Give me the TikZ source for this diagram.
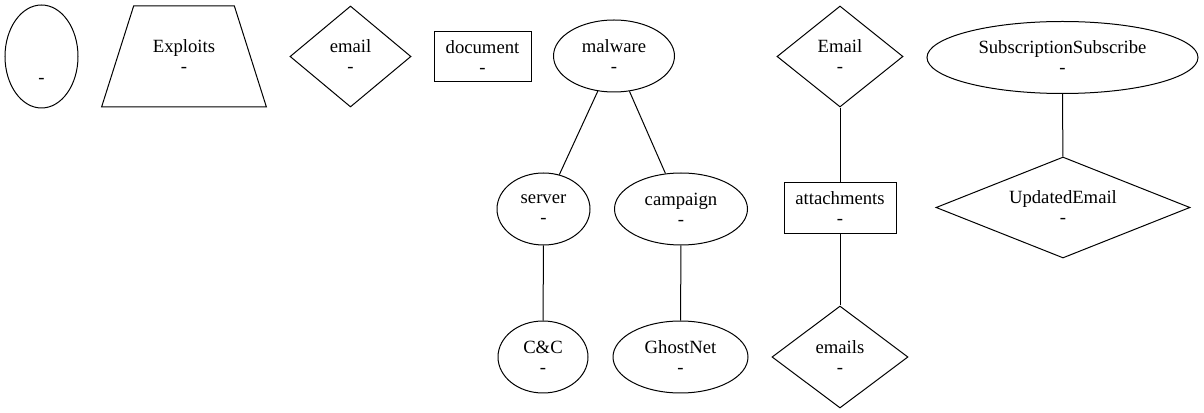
\documentclass[tikz,border=0pt]{standalone}
\usepackage{fontspec}
\setmainfont{Liberation Serif}
\usepackage{tikz}
\usetikzlibrary{shapes.geometric}

\begin{document}
\begin{tikzpicture}[x=0.75pt,y=-0.75pt,
    every node/.style={font=\fontsize{14}{15}\selectfont,align=center,
                       inner sep=0pt,line width=0.75pt},
    ellnode/.style={draw,ellipse,minimum height=54pt},
    diamnode/.style={draw,diamond,aspect=1.25,minimum height=75.75pt},
    boxnode/.style={draw,rectangle},
    edge/.style={line width=0.75pt}]

  \useasboundingbox (0,0) rectangle (1204,413);

  % Loose nodes (top row)
  \node[ellnode,minimum width=54.75pt,minimum height=77.25pt] (blank) at (41.5,56.5)
    {\strut\\\mbox{}\\-};
  \node[draw,trapezium,trapezium angle=59,trapezium stretches=true,
        minimum width=124.5pt,minimum height=75.75pt] (exploits) at (184,56.5)
    {Exploits\\-};
  \node[diamnode,minimum width=90.75pt] (email) at (350.5,56.5) {email\\-};
  \node[boxnode,minimum width=72.75pt,minimum height=37.5pt] (document) at (482.5,57)
    {document\\-};

  % malware tree
  \node[ellnode,minimum width=90.75pt] (malware) at (614,56) {malware\\-};
  \node[ellnode,minimum width=69.75pt] (server) at (543.5,209) {server\\-};
  \node[ellnode,minimum width=99.75pt] (campaign) at (681,209) {campaign\\-};
  \node[ellnode,minimum width=67.5pt] (cnc) at (543,357) {C\&C\\-};
  \node[ellnode,minimum width=101.25pt] (ghostnet) at (680.5,357) {GhostNet\\-};

  % Email chain
  \node[diamnode,minimum width=94.5pt] (emailcap) at (840,56.5) {Email\\-};
  \node[boxnode,minimum width=84pt,minimum height=38.25pt] (attachments) at (840,208)
    {attachments\\-};
  \node[diamnode,minimum width=102pt,minimum height=76.5pt] (emails) at (840,357)
    {emails\\-};

  % Subscription
  \node[ellnode,minimum width=203.25pt] (subscr) at (1062.5,57.5)
    {SubscriptionSubscribe\\-};
  \node[diamnode,aspect=2.5,minimum width=190.5pt] (updated) at (1063,207.5)
    {UpdatedEmail\\-};

  % links
  \draw[edge] (malware) -- (server);
  \draw[edge] (malware) -- (campaign);
  \draw[edge] (server) -- (cnc);
  \draw[edge] (campaign) -- (ghostnet);
  \draw[edge] (emailcap) -- (attachments);
  \draw[edge] (attachments) -- (emails);
  \draw[edge] (subscr) -- (updated);

\end{tikzpicture}
\end{document}
